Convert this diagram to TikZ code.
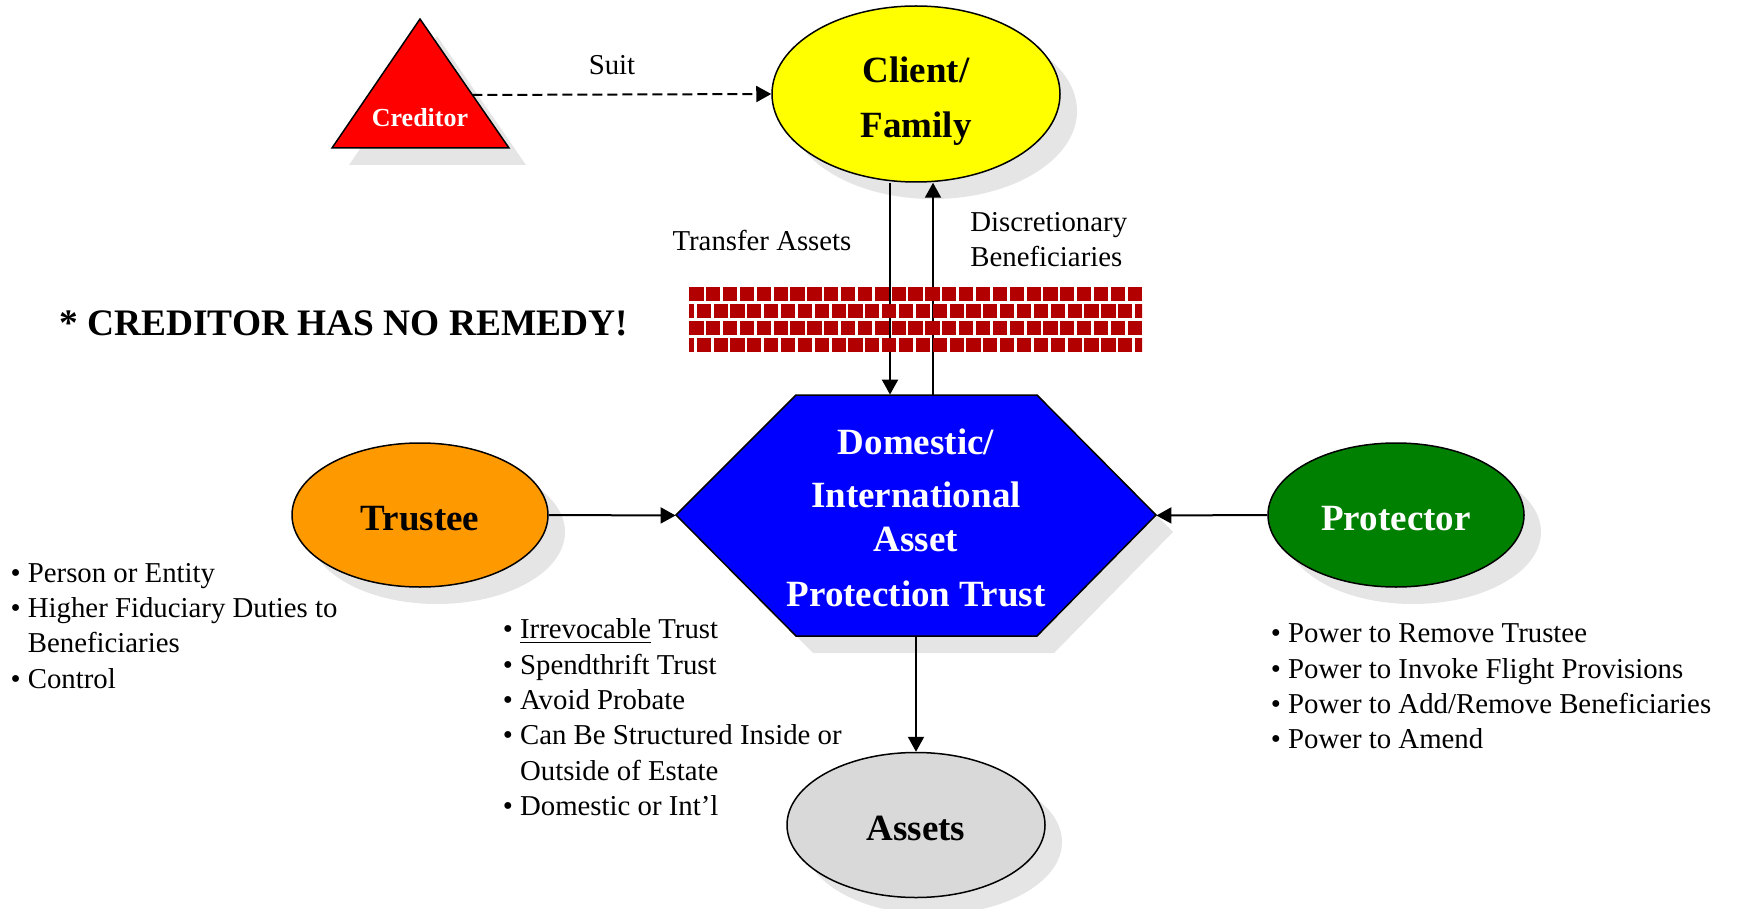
\documentclass[tikz,border=0pt]{standalone}
\usepackage{fontspec}
\setmainfont{Liberation Serif}
\usetikzlibrary{shapes.geometric,shadows,arrows.meta,calc}

\definecolor{brickred}{RGB}{178,0,0}
\definecolor{clientyellow}{RGB}{255,255,0}
\definecolor{trusteeorange}{RGB}{255,153,0}
\definecolor{protectgreen}{RGB}{0,128,0}
\definecolor{trustblue}{RGB}{0,0,255}
\definecolor{assetgray}{RGB}{217,217,217}

\newcommand{\bul}{\textbullet\ }
\newcommand{\ind}{\hphantom{\textbullet\ }}

\begin{document}
\begin{tikzpicture}[x=0.5pt,y=-0.5pt,
  dropgray/.style={drop shadow={shadow xshift=8.5pt,shadow yshift=-8.5pt,fill=black!10,opacity=1}},
  bigtext/.style={font=\fontsize{18.5}{22.2}\selectfont\bfseries},
  bodytext/.style={font=\fontsize{14.4}{17.65}\selectfont},
  blob/.style={ellipse,draw,line width=0.75pt,inner sep=0pt,dropgray,bigtext},
  oneline/.style={text height=15.2pt,text depth=0pt},
  arr/.style={line width=1pt,-{Triangle[length=7.5pt,width=8pt]}}]

\useasboundingbox (0,0) rectangle (1739,909);

% 债权人三角形
\coordinate (T1) at (420,19);
\coordinate (T2) at (509,148);
\coordinate (T3) at (332,148);
\draw[dropgray,fill=red,line width=0.75pt] (T1) -- (T2) -- (T3) -- cycle;
\node[font=\fontsize{13}{15}\selectfont\bfseries,text=white] (creditor) at (420,118) {Creditor};
\coordinate (suitstart) at ($(T1)!0.589!(T2)$);

% 客户
\node[blob,fill=clientyellow,minimum width=144pt,minimum height=88pt,align=center,text depth=0pt] (client) at (916,94)
  {\rule{0pt}{16pt}Client/\\[5pt]Family};

% 六边形顶点
\coordinate (H1) at (676,515);
\coordinate (H2) at (796,395);
\coordinate (H3) at (1037,395);
\coordinate (H4) at (1156,515);
\coordinate (H5) at (1037,636);
\coordinate (H6) at (796,636);
\draw[dropgray,fill=trustblue,line width=0.75pt] (H1) -- (H2) -- (H3) -- (H4) -- (H5) -- (H6) -- cycle;
\node[bigtext,text=white,align=center,inner sep=0pt,minimum width=240pt,minimum height=120.5pt] (trust) at (916,515.5)
  {\rule{0pt}{15pt}Domestic/\\[4.5pt]International\\Asset\\[5pt]Protection Trust};

% 其他椭圆
\node[blob,oneline,fill=trusteeorange,minimum width=128pt,minimum height=72pt] (trustee) at (420,515) {Trustee};
\node[blob,oneline,fill=protectgreen,text=white,minimum width=128pt,minimum height=72pt] (protector) at (1396,515) {Protector};
\node[blob,oneline,fill=assetgray,minimum width=129pt,minimum height=72.5pt] (assets) at (916,825) {Assets};

% 箭头
\draw[line width=1pt,dash pattern=on 5pt off 2.5pt,-{Triangle[length=7.5pt,width=8pt]}] (suitstart) -- (client.west);
\draw[arr] ([xshift=-13pt]client.south) -- ([xshift=-13pt]trust.north);
\draw[arr] ([xshift=8.5pt]trust.north) -- ([xshift=8.5pt]client.south);
\draw[arr] (trustee.east) -- (trust.west);
\draw[arr] (protector.west) -- (trust.east);
\draw[arr] (trust.south) -- (assets.north);

% 砖墙
\begin{scope}
\clip (689,280) rectangle (1142,360);
\foreach \r in {0,2}
  \foreach \k in {0,...,26}
    \fill[brickred] (689.3+\k*16.86,287+\r*17.1) rectangle ++(14.2,13.5);
\foreach \r in {1,3}
  \foreach \k in {0,...,27}
    \fill[brickred] (679.8+\k*16.86,287+\r*17.1) rectangle ++(14.2,13.5);
\end{scope}

% 标签
\node[bodytext,anchor=base] (suit) at (612,75) {Suit};
\node[bodytext,anchor=base] (transfer) at (762,250) {Transfer Assets};
\node[bodytext,anchor=north west,align=left,inner sep=0pt] (discr) at (970,212) {Discretionary\\Beneficiaries};
\node[font=\fontsize{18.7}{22}\selectfont\bfseries,anchor=base west,inner sep=0pt] (noremedy) at (59,335) {* CREDITOR HAS NO REMEDY!};

% 说明文字
\node[bodytext,anchor=north west,align=left,inner sep=0pt] (trusteenotes) at (10.2,562.7)
  {\bul Person or Entity\\ \bul Higher Fiduciary Duties to\\ \ind Beneficiaries\\ \bul Control};
\node[bodytext,anchor=north west,align=left,inner sep=0pt] (trustnotes) at (502.4,618.5)
  {\bul \underline{Irrevocable} Trust\\ \bul Spendthrift Trust\\ \bul Avoid Probate\\ \bul Can Be Structured Inside or\\ \ind Outside of Estate\\ \bul Domestic or Int’l};
\node[bodytext,anchor=north west,align=left,inner sep=0pt] (protectnotes) at (1270.4,623.7)
  {\bul Power to Remove Trustee\\ \bul Power to Invoke Flight Provisions\\ \bul Power to Add/Remove Beneficiaries\\ \bul Power to Amend};

\end{tikzpicture}
\end{document}
